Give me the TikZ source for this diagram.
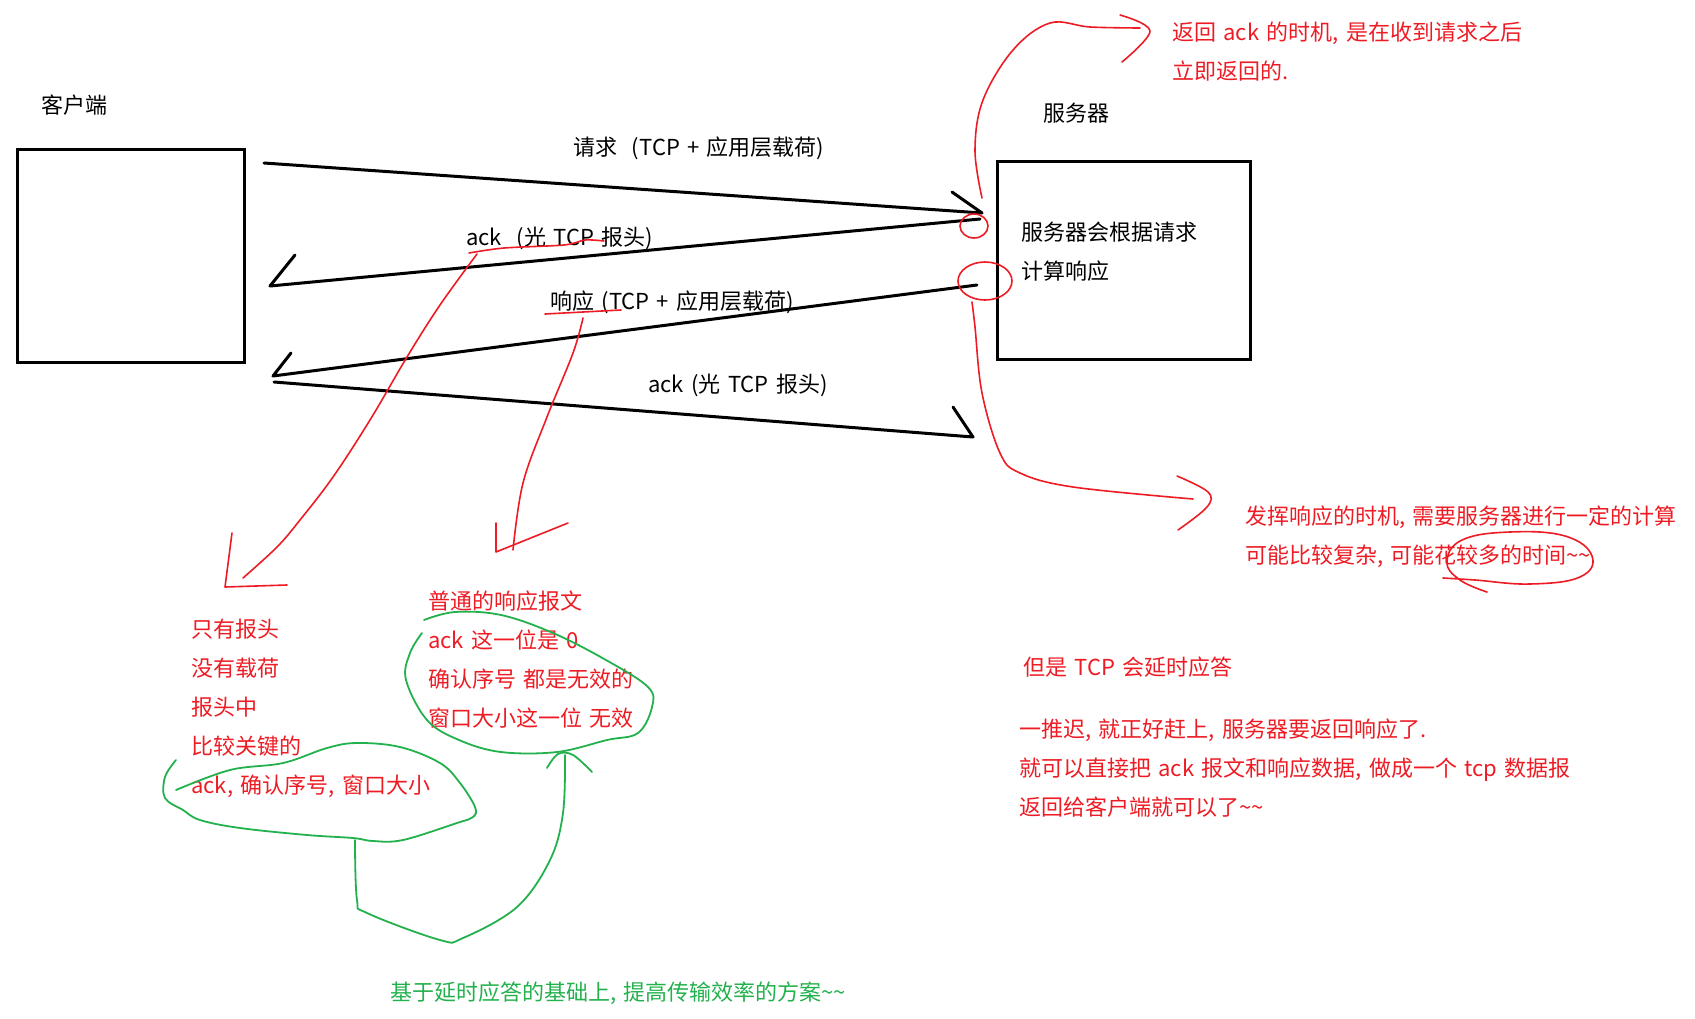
\documentclass[tikz,border=0pt]{standalone}
\usepackage{fontspec}
\setmainfont[WordSpace=1.5]{Noto Sans CJK SC}
\usetikzlibrary{positioning}
\definecolor{rojo}{HTML}{ED1C24}
\definecolor{verde}{HTML}{22B14C}

\begin{document}
\begin{tikzpicture}[x=1pt,y=-1pt,
	caja/.style={draw,line width=3pt,inner sep=0pt},
	etiq/.style={anchor=west,inner sep=0pt,align=left,font=\fontsize{22}{39}\selectfont},
	nota/.style={etiq,text=rojo},
	notaverde/.style={etiq,text=verde},
	linea/.style={line width=3pt,line cap=round,line join=round},
	trazorojo/.style={draw=rojo,line width=1.6pt,line cap=round,line join=round},
	trazoverde/.style={draw=verde,line width=1.8pt,line cap=round,line join=round}
	]
	\useasboundingbox (0,0) rectangle (1695,1018);
	% cliente y servidor
	\node[caja,minimum width=227pt,minimum height=213pt] (cli) at (130.5,255.5) {};
	\node[caja,minimum width=253pt,minimum height=198pt] (srv) at (1123.5,260) {};
	\node[etiq] (lcli) at (41,105) {客户端};
	\node[etiq] (lsrv) at (1043,113) {服务器};
	\node[etiq] (tsrv) at (1021,252) {服务器会根据请求\\计算响应};
	% extremos de las flechas
	\coordinate (q1) at (264,163);
	\coordinate (q2) at (982,213);
	\coordinate (a1) at (980,219);
	\coordinate (a2) at (270,286);
	\coordinate (r1) at (977,285);
	\coordinate (r2) at (273,376);
	\coordinate (b1) at (274,382);
	\coordinate (b2) at (973,437);
	\draw[linea] (q1) -- (q2) -- ++(-30,-21);
	\draw[linea] (a1) -- (a2) -- ++(25,-31);
	\draw[linea] (r1) -- (r2) -- ++(18,-23);
	\draw[linea] (b1) -- (b2) -- ++(-20,-30);
	\node[etiq] (lreq) at (573,148) {请求\ \ (TCP + 应用层载荷)};
	\node[etiq] (lack1) at (466,238) {ack\ \ (光 TCP 报头)};
	\node[etiq] (lres) at (550,302) {响应 (TCP + 应用层载荷)};
	\node[etiq] (lack2) at (648,385) {ack (光 TCP 报头)};
	% notas rojas
	\node[nota] (n1) at (1172,52) {返回 ack 的时机, 是在收到请求之后\\立即返回的.};
	\node[nota] (n2) at (1245,537) {发挥响应的时机, 需要服务器进行一定的计算\\可能比较复杂, 可能花较多的时间\textasciitilde\textasciitilde};
	\node[nota] (n3) at (191,708) {只有报头\\没有载荷\\报头中\\比较关键的\\ack, 确认序号, 窗口大小};
	\node[nota] (n4) at (428,660) {普通的响应报文\\ack 这一位是 0\\确认序号 都是无效的\\窗口大小这一位 无效};
	\node[nota] (n5) at (1023,667) {但是 TCP 会延时应答};
	\node[nota] (n6) at (1019,768) {一推迟, 就正好赶上, 服务器要返回响应了.\\就可以直接把 ack 报文和响应数据, 做成一个 tcp 数据报\\返回给客户端就可以了\textasciitilde\textasciitilde};
	\node[notaverde] (n7) at (390,993) {基于延时应答的基础上, 提高传输效率的方案\textasciitilde\textasciitilde};
	% trazos rojos
	\draw[trazorojo] (974,226) ellipse [x radius=14pt,y radius=12pt];
	\draw[trazorojo] (985,281) ellipse [x radius=27pt,y radius=19pt];
	\draw[trazorojo] plot[smooth,tension=0.6] coordinates {(982,198) (975,150) (983,100) (1013,50) (1050,23) (1090,27) (1140,28)};
	\draw[trazorojo] plot[smooth,tension=0.6] coordinates {(1120,15) (1150,31) (1122,62)};
	\draw[trazorojo] plot[smooth,tension=0.6] coordinates {(972,302) (975,327) (982,393) (1000,453) (1020,473) (1073,487) (1193,499)};
	\draw[trazorojo] plot[smooth,tension=0.6] coordinates {(1177,476) (1208,492) (1207,507) (1178,530)};
	\draw[trazorojo] plot[smooth,tension=0.7] coordinates {(1487,592) (1460,580) (1447,562) (1462,540) (1510,532) (1565,536) (1592,556) (1580,577) (1530,584) (1475,580) (1443,578)};
	\draw[trazorojo] plot[smooth,tension=0.5] coordinates {(469,253) (504,248) (564,245) (585,240) (604,241)};
	\draw[trazorojo] (545,314) -- (621,310);
	\draw[trazorojo] plot[smooth,tension=0.6] coordinates {(477,254) (440,305) (407,357) (370,420) (333,477) (300,520) (277,547) (243,578)};
	\draw[trazorojo] (232,533) -- (225,587) -- (287,585);
	\draw[trazorojo] plot[smooth,tension=0.6] coordinates {(583,318) (573,353) (547,417) (523,483) (513,550)};
	\draw[trazorojo] (496,523) -- (496,552) -- (568,523);
	% trazos verdes
	\draw[trazoverde] plot[smooth,tension=0.6] coordinates {(422,633) (410,653) (406,680) (427,720) (459,740) (501,752) (557,752) (607,740) (638,733) (652,707) (648,687) (606,660) (553,633) (501,615) (455,612) (424,620)};
	\draw[trazoverde] plot[smooth,tension=0.6] coordinates {(176,760) (165,777) (165,798) (183,810) (200,820) (240,828) (307,835) (353,838) (373,841) (403,840) (457,823) (473,817) (475,807) (460,783) (440,763) (400,747) (357,743) (327,748) (283,763) (230,770) (176,790)};
	\draw[trazoverde] plot[smooth,tension=0.6] coordinates {(355,840) (357,900) (367,913) (440,940) (463,938) (517,907) (550,860) (563,813) (565,755)};
	\draw[trazoverde] plot[smooth,tension=0.6] coordinates {(547,768) (558,754) (573,755) (592,772)};
\end{tikzpicture}
\end{document}
